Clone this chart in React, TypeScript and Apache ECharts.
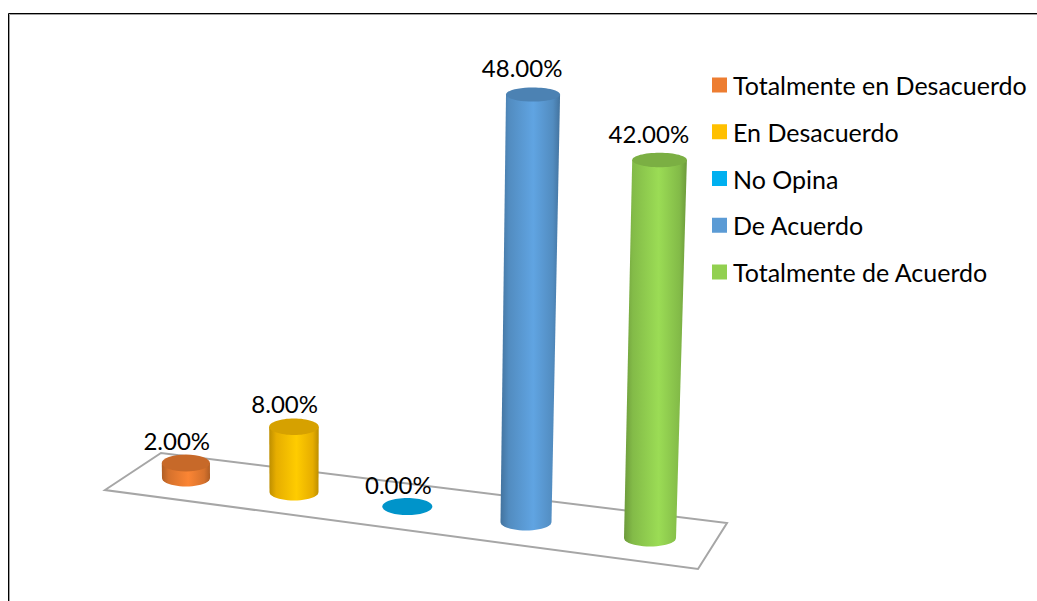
import React, { useEffect, useRef } from "react";
import * as echarts from "echarts";

const categories = [
  "Totalmente en Desacuerdo",
  "En Desacuerdo",
  "No Opina",
  "De Acuerdo",
  "Totalmente de Acuerdo",
];
const percentages = [2, 8, 0, 48, 42];
const colors = ["#ED7D31", "#FFC000", "#00B0F0", "#5B9BD5", "#92D050"];

const FONT = "Lato, 'Open Sans', sans-serif";

function shade(hex: string, factor: number): string {
  const n = parseInt(hex.slice(1), 16);
  const ch = (v: number) => Math.max(0, Math.min(255, Math.round(v * factor)));
  return `rgb(${ch((n >> 16) & 255)},${ch((n >> 8) & 255)},${ch(n & 255)})`;
}

// Draws one cylinder standing on the tilted floor: the axis scales give its
// position and height, and a small perspective warp is applied on top.
function renderCylinder(params: any, api: any) {
  const idx = api.value(0);
  const value = api.value(1);
  const color = colors[idx];

  const first = api.coord([0, 0]);
  const last = api.coord([categories.length - 1, 0]);
  const top = api.coord([idx, value]);
  const zero = api.coord([idx, 0]);

  const u = (zero[0] - first[0]) / (last[0] - first[0]);
  const baseX = zero[0] - 42.7 * u * (1 - u);
  const baseY = last[1] - 0.1293 * (last[0] - baseX);
  const height = (zero[1] - top[1]) * (1 - 0.167 * (1 - u) * (1 - u));

  const topX = baseX + value * (baseX - 300) * 0.00065;
  const topY = baseY - height;
  const rx = 24 + 2 * u;
  const rxTop = rx + value * 0.032;
  const ry = 8.5;
  const ryTop = ry - value * 0.03;

  const outline: number[][] = [[topX - rxTop, topY], [topX + rxTop, topY]];
  for (let k = 0; k <= 24; k++) {
    const a = (Math.PI * k) / 24;
    outline.push([baseX + rx * Math.cos(a), baseY + ry * Math.sin(a)]);
  }

  const bodyFill = new echarts.graphic.LinearGradient(0, 0, 1, 0, [
    { offset: 0, color: shade(color, 0.74) },
    { offset: 0.14, color: shade(color, 0.9) },
    { offset: 0.55, color: shade(color, 1.06) },
    { offset: 0.88, color: shade(color, 0.9) },
    { offset: 1, color: shade(color, 0.74) },
  ]);

  const children: any[] = [];
  if (value > 0) {
    children.push({
      type: "polygon",
      shape: { points: outline },
      style: { fill: bodyFill },
    });
  }
  children.push({
    type: "ellipse",
    shape: { cx: topX, cy: topY, rx: rxTop, ry: ryTop },
    style: { fill: shade(color, 0.84) },
  });
  children.push({
    type: "text",
    x: topX - 9 - value * 0.04,
    y: topY - 22 - value / 10,
    style: {
      text: value.toFixed(2) + "%",
      fill: "#000",
      font: `24px ${FONT}`,
      align: "center",
      verticalAlign: "middle",
    },
  });
  return { type: "group", children };
}

export default function App() {
  const ref = useRef<HTMLDivElement>(null);

  useEffect(() => {
    const chart = echarts.init(ref.current!, undefined, { renderer: "svg" });
    chart.setOption({
      animation: false,
      backgroundColor: "#fff",
      grid: { left: 128, width: 580, top: 88, height: 450 },
      xAxis: { type: "category", data: categories, show: false },
      yAxis: { type: "value", min: 0, max: 50, show: false },
      legend: {
        orient: "vertical",
        left: 712,
        top: 72.5,
        icon: "rect",
        itemWidth: 15,
        itemHeight: 15,
        itemGap: 21.75,
        padding: 0,
        selectedMode: false,
        textStyle: { fontFamily: FONT, fontSize: 25, color: "#000", padding: [0, 0, 0, 1] },
        data: categories,
      },
      graphic: [
        {
          type: "polygon",
          z: 0,
          shape: { points: [[105, 490], [161, 453], [727, 523], [698, 569]] },
          style: { fill: "none", stroke: "#a6a6a6", lineWidth: 2 },
        },
        {
          type: "polyline",
          z: 0,
          shape: { points: [[9.5, 601], [9.5, 14.5], [1037, 14.5]] },
          style: { fill: "none", stroke: "#a0a0a0", lineWidth: 1 },
        },
        {
          type: "polyline",
          z: 0,
          shape: { points: [[8.5, 601], [8.5, 13.5], [1037, 13.5]] },
          style: { fill: "none", stroke: "#000", lineWidth: 1 },
        },
      ],
      series: categories.map((name, i) => ({
        type: "custom",
        name,
        clip: false,
        itemStyle: { color: colors[i] },
        renderItem: renderCylinder,
        data: [[i, percentages[i]]],
      })),
    });
    return () => chart.dispose();
  }, []);

  return (
    <div
      ref={ref}
      style={{ position: "fixed", left: 0, top: 0, width: 1037, height: 601 }}
    />
  );
}
